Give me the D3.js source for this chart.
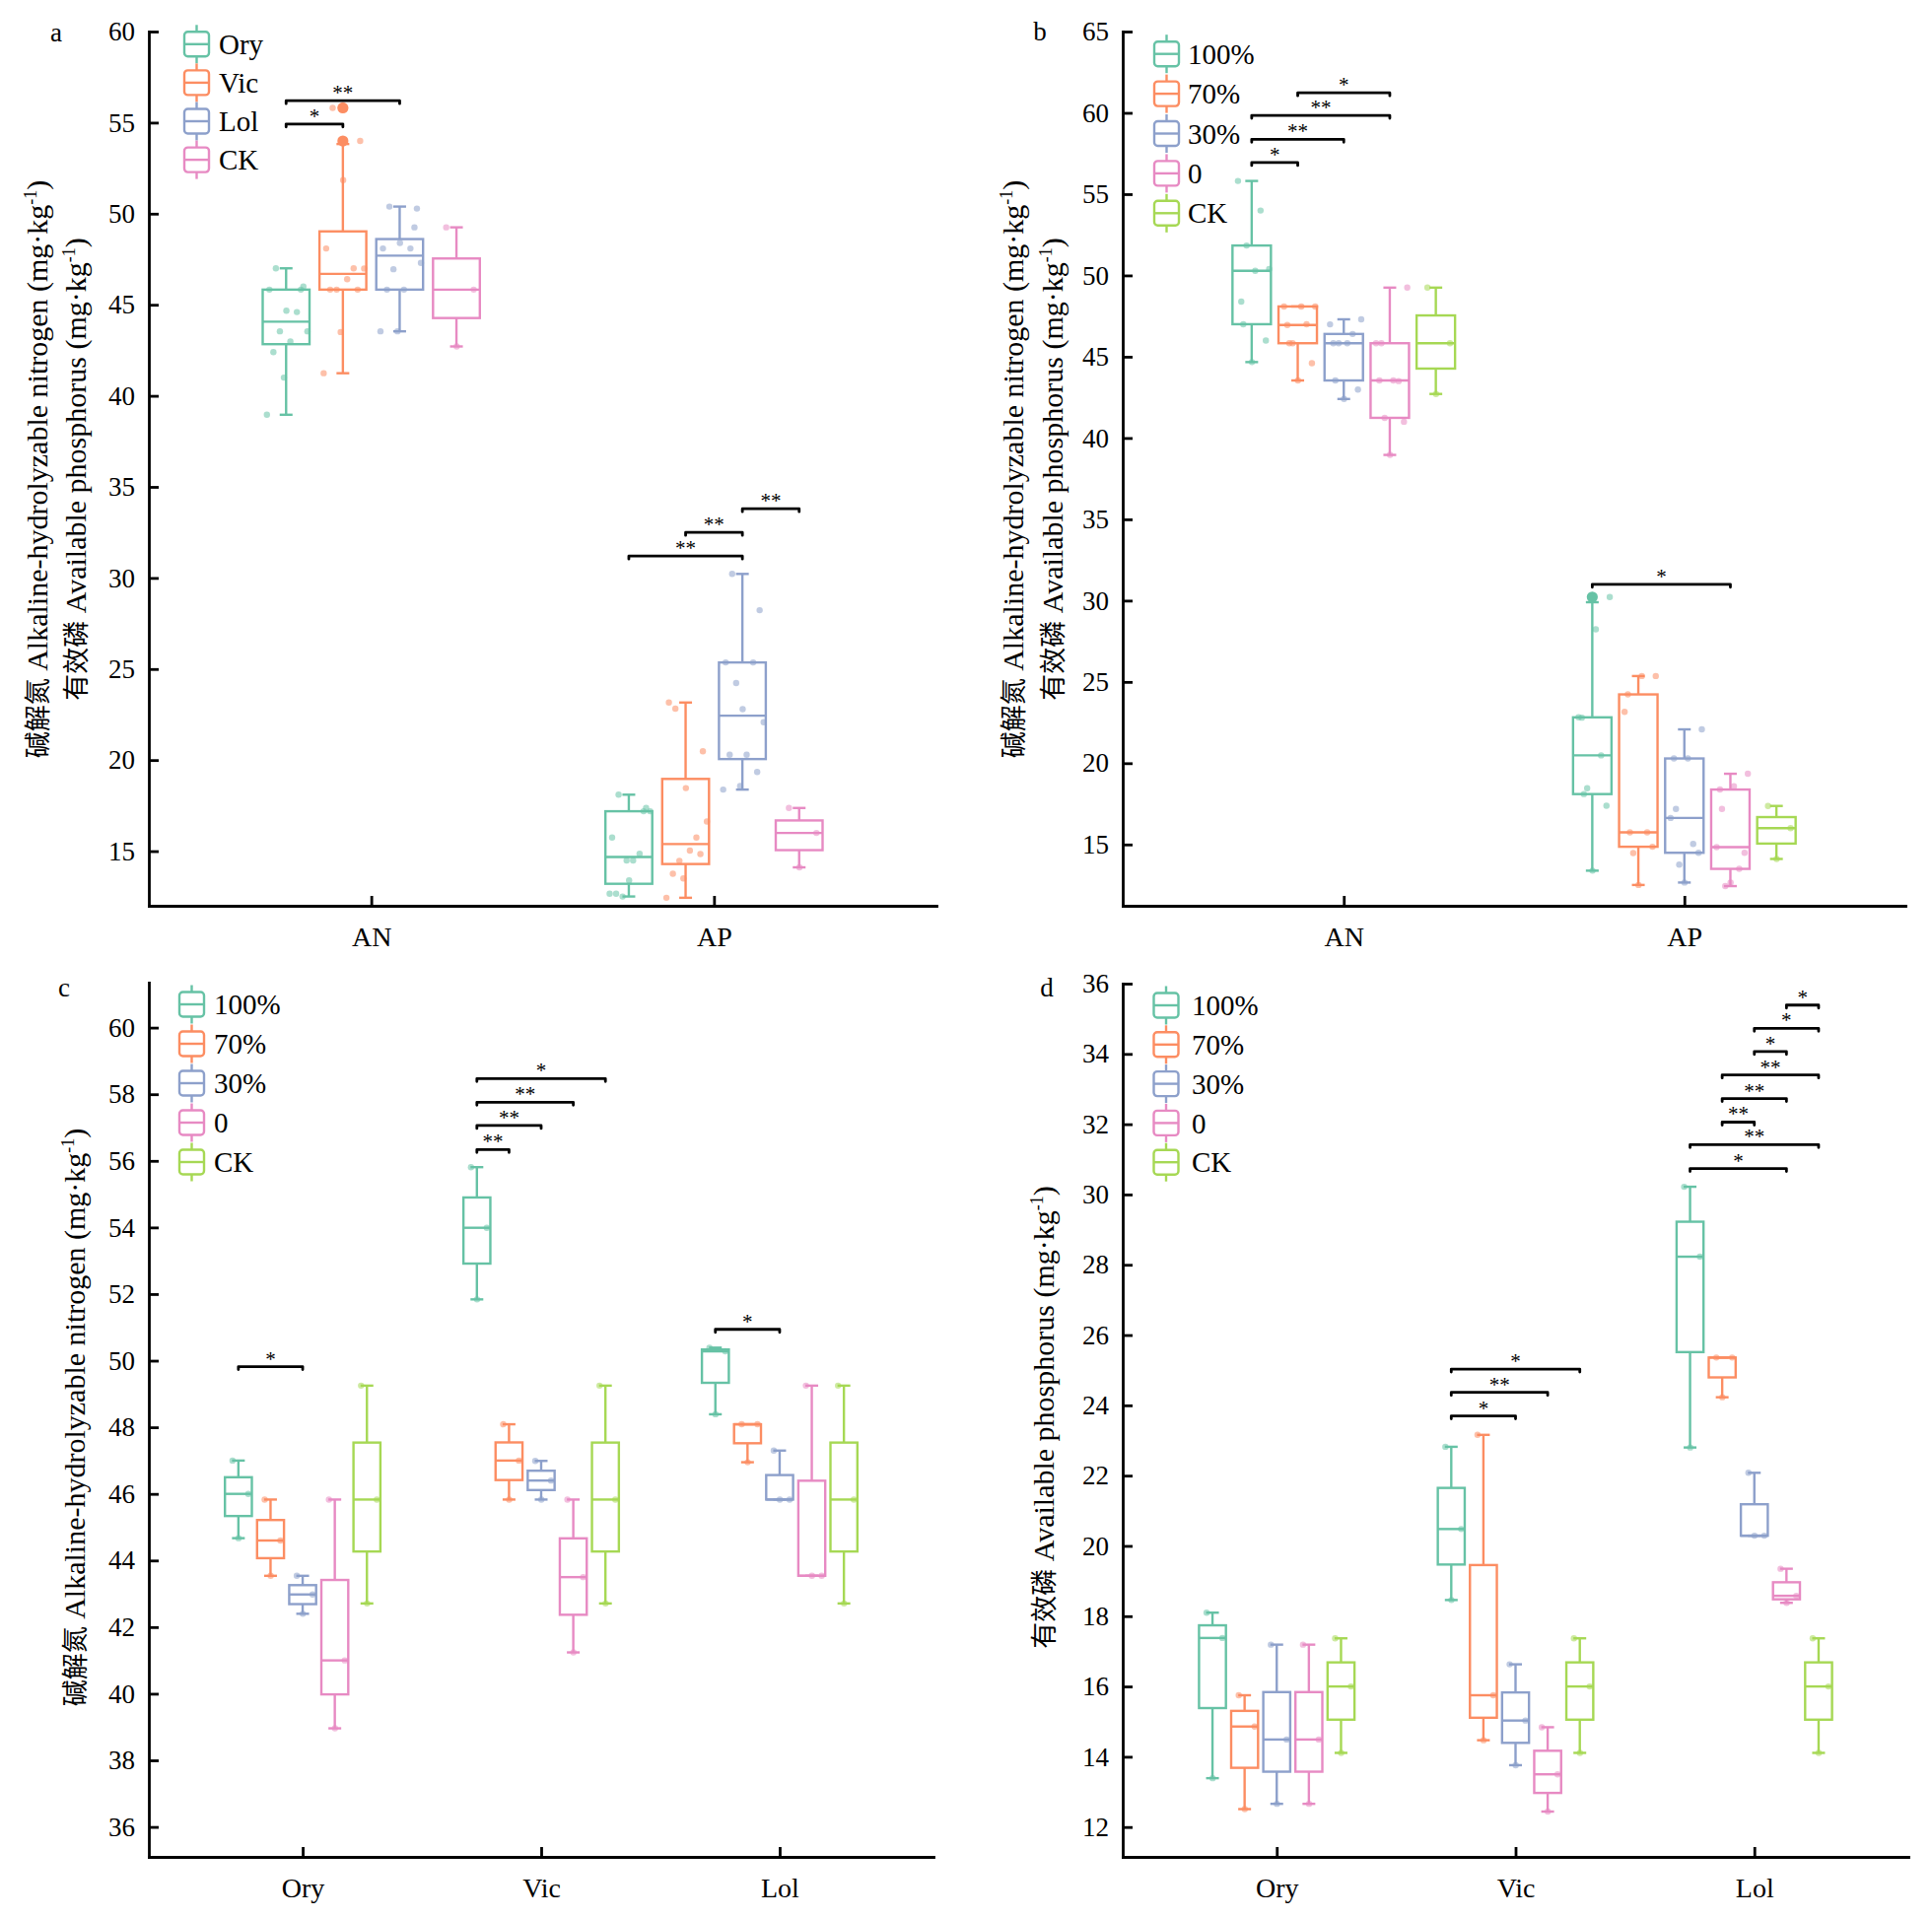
<!DOCTYPE html>
<html>
<head>
<meta charset="utf-8">
<script src="https://cdn.jsdelivr.net/npm/d3@7"></script>
<style>
  body { margin: 0; background: #fff; }
  text { font-family: "Liberation Serif", "Times New Roman", "Noto Sans CJK SC", serif; fill: #000; }
</style>
</head>
<body>
<svg id="chart" width="1960" height="1946"></svg>
<script>
// ---- data -------------------------------------------------------------
var species = ['Ory', 'Vic', 'Lol']
var treatments = ['100%', '70%', '30%', '0']
var nutrients = ['AN', 'AP']

// three replicates per treatment, rows: 100%, 70%, 30%, 0
var anOry = [[47.0, 46.0, 44.67], [45.83, 44.6, 43.54], [43.54, 42.98, 42.4], [45.83, 41.0, 38.96]]
var anVic = [[55.81, 53.99, 51.84], [48.09, 47.0, 45.83], [46.99, 46.4, 45.83], [45.83, 43.5, 41.24]]
var anLol = [[50.39, 50.28, 48.39], [48.09, 48.09, 46.95], [47.3, 45.83, 45.83], [49.25, 43.54, 43.54]]
var anCK = [49.25, 45.83, 42.71]

var apOry = [[18.1, 17.38, 13.39], [15.75, 14.86, 12.51], [17.19, 14.49, 12.66], [17.19, 14.49, 12.66]]
var apVic = [[22.82, 20.48, 18.46], [23.16, 15.75, 14.47], [16.63, 15.03, 13.76], [14.84, 13.5, 12.44]]
var apLol = [[30.22, 28.23, 22.8], [25.36, 25.36, 24.23], [22.08, 20.29, 20.29], [19.35, 18.58, 18.38]]
var apCK = [17.37, 16.0, 14.11]

var ticksA = [15, 20, 25, 30, 35, 40, 45, 50, 55, 60]
var ticksB = [15, 20, 25, 30, 35, 40, 45, 50, 55, 60, 65]
var ticksC = [36, 38, 40, 42, 44, 46, 48, 50, 52, 54, 56, 58, 60]
var ticksD = [12, 14, 16, 18, 20, 22, 24, 26, 28, 30, 32, 34, 36]

// significance brackets: category, from group, to group, height (data units), label
var sigA = [['AN', 'Ory', 'Vic', 54.92, '*'], ['AN', 'Ory', 'Lol', 56.2, '**'],
  ['AP', 'Ory', 'Lol', 31.2, '**'], ['AP', 'Vic', 'Lol', 32.5, '**'], ['AP', 'Lol', 'CK', 33.8, '**']]
var sigB = [['AN', '100%', '70%', 56.94, '*'], ['AN', '100%', '30%', 58.37, '**'],
  ['AN', '100%', '0', 59.84, '**'], ['AN', '70%', '0', 61.23, '*'], ['AP', '100%', '0', 31.0, '*']]
var sigC = [['Ory', '100%', '30%', 49.82, '*'], ['Vic', '100%', '70%', 56.34, '**'],
  ['Vic', '100%', '30%', 57.06, '**'], ['Vic', '100%', '0', 57.76, '**'],
  ['Vic', '100%', 'CK', 58.47, '*'], ['Lol', '100%', '30%', 50.94, '*']]
var sigD = [['Vic', '100%', '30%', 23.7, '*'], ['Vic', '100%', '0', 24.37, '**'],
  ['Vic', '100%', 'CK', 25.03, '*'], ['Lol', '100%', '0', 30.74, '*'],
  ['Lol', '100%', 'CK', 31.42, '**'], ['Lol', '70%', '30%', 32.06, '**'],
  ['Lol', '70%', '0', 32.73, '**'], ['Lol', '70%', 'CK', 33.4, '**'],
  ['Lol', '30%', '0', 34.07, '*'], ['Lol', '30%', 'CK', 34.73, '*'], ['Lol', '0', 'CK', 35.39, '*']]

var set2 = ['#66c2a5', '#fc8d62', '#8da0cb', '#e78ac3', '#a6d854']

var titleAN = ['碱解氮', ' Alkaline-hydrolyzable nitrogen (mg·kg']
var titleAP = ['有效磷', ' Available phosphorus (mg·kg']

// ---- lookups ----------------------------------------------------------
var anBy = {Ory: anOry, Vic: anVic, Lol: anLol}
var apBy = {Ory: apOry, Vic: apVic, Lol: apLol}
var trtGroups = treatments.concat('CK')

function valsA(cat, grp){
  if (grp == 'CK') return cat == 'AN' ? anCK : apCK
  return (cat == 'AN' ? anBy : apBy)[grp].flat()
}
function valsB(cat, grp){
  if (grp == 'CK') return cat == 'AN' ? anCK : apCK
  var t = treatments.indexOf(grp), src = cat == 'AN' ? anBy : apBy
  return species.map(s => src[s][t]).flat()
}
function valsC(cat, grp){
  if (grp == 'CK') return anCK
  return anBy[cat][treatments.indexOf(grp)]
}
function valsD(cat, grp){
  if (grp == 'CK') return apCK
  return apBy[cat][treatments.indexOf(grp)]
}

var panels = [
  {letter: 'a', lx: 57, ly: 33, cats: nutrients, groups: species.concat('CK'), colors: set2.slice(0, 4),
   vals: valsA, sig: sigA, ticks: ticksA, domain: [12, 60],
   left: 151, right: 950, top: 32, bottom: 919, pad: 0.649, step: 57.6, boxW: 47.5,
   titles: [[titleAN, 37], [titleAP, 76]], ty: 476,
   legend: {ix: 187, tx: 222, y0: 44.8, dy: 39.1}},
  {letter: 'b', lx: 1055, ly: 32, cats: nutrients, groups: trtGroups, colors: set2,
   vals: valsB, sig: sigB, ticks: ticksB, domain: [11.23, 65],
   left: 1139, right: 1933, top: 32, bottom: 919, pad: 0.649, step: 46.7, boxW: 39,
   titles: [[titleAN, 1027], [titleAP, 1067]], ty: 476,
   legend: {ix: 1171, tx: 1205, y0: 54.7, dy: 40.4}},
  {letter: 'c', lx: 65, ly: 1002, cats: species, groups: trtGroups, colors: set2,
   vals: valsC, sig: sigC, ticks: ticksC, domain: [35.1, 61.35],
   left: 151, right: 947, top: 997, bottom: 1884, pad: 0.645, step: 32.6, boxW: 27.3,
   titles: [[titleAN, 75]], ty: 1438,
   legend: {ix: 182, tx: 217, y0: 1019, dy: 40}},
  {letter: 'd', lx: 1062, ly: 1002, cats: species, groups: trtGroups, colors: set2,
   vals: valsD, sig: sigD, ticks: ticksD, domain: [11.15, 36],
   left: 1139, right: 1936, top: 998, bottom: 1884, pad: 0.645, step: 32.6, boxW: 27.3,
   titles: [[titleAP, 1058]], ty: 1438,
   legend: {ix: 1170.5, tx: 1209, y0: 1020, dy: 39.8}},
]

var svg = d3.select('#chart')
svg.append('rect').attr('width', 1960).attr('height', 1946).attr('fill', '#fff')

var lw = 2.4

function boxStats(vals){
  var s = vals.slice().sort(d3.ascending)
  var q1 = d3.quantileSorted(s, 0.25), med = d3.quantileSorted(s, 0.5), q3 = d3.quantileSorted(s, 0.75)
  var iqr = q3 - q1
  var lo = Math.max(s[0], q1 - 1.5*iqr), hi = Math.min(s[s.length - 1], q3 + 1.5*iqr)
  var out = s.filter(v => v < q1 - 1.5*iqr || v > q3 + 1.5*iqr)
  return {q1, med, q3, lo, hi, out}
}

// spread of the raw points inside a box (deterministic)
function jitter(i){ return ((i*0.618034 + 0.27) % 1) - 0.5 }

panels.forEach(function(p){
  var g = svg.append('g')
  var y = d3.scaleLinear().domain(p.domain).range([p.bottom, p.top])
  var x = d3.scalePoint().domain(p.cats).range([p.left, p.right]).padding(p.pad)
  var n = p.groups.length
  var inner = d3.scalePoint().domain(p.groups).range([-(n - 1)/2*p.step, (n - 1)/2*p.step])
  var color = d3.scaleOrdinal().domain(p.groups).range(p.colors)

  // axes
  var yAxis = g.append('g').attr('transform', `translate(${p.left},0)`)
    .call(d3.axisLeft(y).tickValues(p.ticks).tickSize(-10).tickSizeOuter(0).tickPadding(14))
  var xAxis = g.append('g').attr('transform', `translate(0,${p.bottom})`)
    .call(d3.axisBottom(x).tickSize(-10).tickSizeOuter(0).tickPadding(21))
  ;[yAxis, xAxis].forEach(a => {
    a.select('.domain').attr('stroke-width', 2.8).attr('stroke-linecap', 'square')
    a.selectAll('.tick line').attr('stroke-width', 2.8)
  })
  yAxis.selectAll('.tick text').attr('font-size', 27).attr('font-family', null)
  xAxis.selectAll('.tick text').attr('font-size', 28).attr('font-family', null)

  // boxes
  p.cats.forEach(function(cat){
    p.groups.forEach(function(grp){
      var vals = p.vals(cat, grp)
      var st = boxStats(vals)
      var cx = x(cat) + inner(grp)
      var c = color(grp)
      var hw = p.boxW/2, cap = 6.5
      var bg = g.append('g').attr('stroke', c).attr('stroke-width', lw).attr('fill', 'none')
      bg.append('line').attr('x1', cx).attr('x2', cx).attr('y1', y(st.hi)).attr('y2', y(st.q3))
      bg.append('line').attr('x1', cx).attr('x2', cx).attr('y1', y(st.q1)).attr('y2', y(st.lo))
      bg.append('line').attr('x1', cx - cap).attr('x2', cx + cap).attr('y1', y(st.hi)).attr('y2', y(st.hi))
      bg.append('line').attr('x1', cx - cap).attr('x2', cx + cap).attr('y1', y(st.lo)).attr('y2', y(st.lo))
      bg.append('rect').attr('x', cx - hw).attr('width', p.boxW)
        .attr('y', y(st.q3)).attr('height', Math.max(0, y(st.q1) - y(st.q3)))
      bg.append('line').attr('x1', cx - hw).attr('x2', cx + hw).attr('y1', y(st.med)).attr('y2', y(st.med))

      g.append('g').selectAll('circle').data(vals).join('circle')
        .attr('cx', (d, i) => cx + jitter(i)*p.boxW*0.95)
        .attr('cy', d => y(d))
        .attr('r', 3.2)
        .attr('fill', c).attr('fill-opacity', 0.55)

      g.append('g').selectAll('circle').data(st.out).join('circle')
        .attr('cx', cx).attr('cy', d => y(d)).attr('r', 5.6).attr('fill', c)
    })
  })

  // significance brackets
  p.sig.forEach(function(s){
    var x1 = x(s[0]) + inner(s[1]), x2 = x(s[0]) + inner(s[2]), yy = y(s[3])
    g.append('path')
      .attr('d', `M${x1},${yy + 3}V${yy}H${x2}V${yy + 3}`)
      .attr('fill', 'none').attr('stroke', '#000').attr('stroke-width', 2.8)
      .attr('stroke-linecap', 'round').attr('stroke-linejoin', 'round')
    g.append('text').attr('x', (x1 + x2)/2).attr('y', yy - 1)
      .attr('text-anchor', 'middle').attr('font-size', 21).text(s[4])
  })

  // legend
  var L = p.legend
  var items = g.append('g').selectAll('g').data(p.groups).join('g')
    .attr('transform', (d, i) => `translate(0,${L.y0 + i*L.dy})`)
  var iw = 25, ih = 25, icx = L.ix + iw/2
  items.append('line').attr('x1', icx).attr('x2', icx).attr('y1', -ih/2 - 7).attr('y2', ih/2 + 7)
    .attr('stroke', d => color(d)).attr('stroke-width', lw)
  items.append('rect').attr('x', L.ix).attr('y', -ih/2).attr('width', iw).attr('height', ih)
    .attr('rx', 3.5).attr('fill', '#fff').attr('stroke', d => color(d)).attr('stroke-width', lw)
  items.append('line').attr('x1', L.ix).attr('x2', L.ix + iw).attr('y1', 0).attr('y2', 0)
    .attr('stroke', d => color(d)).attr('stroke-width', lw)
  items.append('text').attr('x', L.tx).attr('y', 0).attr('dy', '0.35em')
    .attr('font-size', 29).text(d => d)

  // y titles
  p.titles.forEach(function(t){
    var tt = g.append('text')
      .attr('transform', `translate(${t[1]},${p.ty}) rotate(-90)`)
      .attr('text-anchor', 'middle').attr('dy', '0.35em').attr('font-size', 30)
    tt.append('tspan').attr('font-size', 27).text(t[0][0])
    tt.append('tspan').text(t[0][1])
    tt.append('tspan').attr('font-size', 18).attr('dy', -11).text('-1')
    tt.append('tspan').attr('dy', 11).text(')')
  })

  // panel letter
  g.append('text').attr('x', p.lx).attr('y', p.ly).attr('dy', '0.35em')
    .attr('text-anchor', 'middle').attr('font-size', 27).text(p.letter)
})
</script>
</body>
</html>
